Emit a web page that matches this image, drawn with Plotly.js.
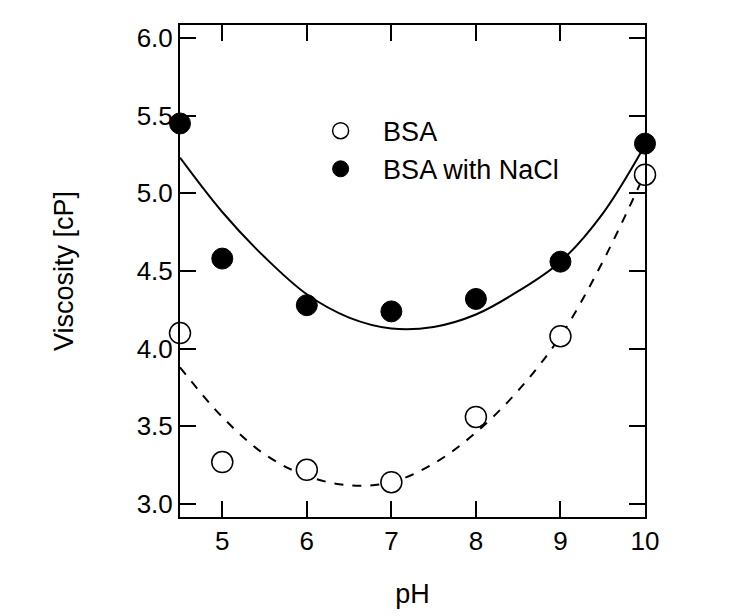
<!DOCTYPE html>
<html>
<head>
<meta charset="utf-8">
<script src="https://cdn.plot.ly/plotly-3.0.1.min.js"></script>
<style>
  body { margin: 0; background: #fff; }
  #chart { width: 747px; height: 616px; }
</style>
</head>
<body>
<div id="chart"></div>
<script>
// measured points
var pH = [4.5, 5, 6, 7, 8, 9, 10];
var bsa = [4.10, 3.27, 3.22, 3.14, 3.56, 4.08, 5.12];
var bsaNaCl = [5.45, 4.58, 4.28, 4.24, 4.32, 4.56, 5.32];

// fitted curves
var fitPH = [4.5, 5, 5.5, 6, 6.5, 7, 7.5, 8, 8.5, 9, 9.5, 10];
var fitBsa = [3.88, 3.56, 3.32, 3.18, 3.12, 3.14, 3.26, 3.46, 3.73, 4.08, 4.56, 5.13];
var fitNaCl = [5.23, 4.88, 4.59, 4.35, 4.20, 4.13, 4.14, 4.22, 4.37, 4.56, 4.87, 5.31];

var fontFam = "Arial, 'Liberation Sans', sans-serif";

var fit1 = {
    x: fitPH, y: fitBsa,
    mode: "lines", type: "scatter",
    line: {color: "#000", width: 2, dash: "dash", shape: "spline"},
    showlegend: false, hoverinfo: "skip"
};

var fit2 = {
    x: fitPH, y: fitNaCl,
    mode: "lines", type: "scatter",
    line: {color: "#000", width: 2, shape: "spline"},
    showlegend: false, hoverinfo: "skip"
};

var trace1 = {
    x: pH, y: bsa,
    mode: "markers", type: "scatter",
    name: "BSA",
    marker: {size: 21, color: "#fff", line: {color: "#000", width: 1.5}},
    cliponaxis: false
};

var trace2 = {
    x: pH, y: bsaNaCl,
    mode: "markers", type: "scatter",
    name: "BSA with NaCl",
    marker: {size: 21, color: "#000", line: {color: "#000", width: 1}},
    cliponaxis: false
};

var layout = {
    width: 747, height: 616,
    margin: {l: 180, r: 102, t: 25, b: 99},
    paper_bgcolor: "#fff",
    plot_bgcolor: "#fff",
    font: {family: fontFam, color: "#000", size: 27},
    showlegend: true,
    legend: {
        x: 0.254, y: 0.834, xanchor: "left", yanchor: "top",
        bgcolor: "rgba(0,0,0,0)",
        itemwidth: 75,
        font: {size: 27}
    },
    xaxis: {
        range: [4.5, 10],
        tickvals: [5, 6, 7, 8, 9, 10],
        ticks: "inside", ticklen: 16, tickwidth: 2, tickcolor: "#000",
        showline: true, linewidth: 2, linecolor: "#000", mirror: "ticks",
        showgrid: false, zeroline: false,
        tickfont: {size: 26},
        title: {text: "pH", font: {size: 27}, standoff: 29}
    },
    yaxis: {
        range: [2.916, 6.084],
        tickvals: [3.0, 3.5, 4.0, 4.5, 5.0, 5.5, 6.0],
        tickformat: ".1f",
        ticks: "inside", ticklen: 16, tickwidth: 2, tickcolor: "#000",
        showline: true, linewidth: 2, linecolor: "#000", mirror: "ticks",
        showgrid: false, zeroline: false,
        tickfont: {size: 26},
        title: {text: "Viscosity [cP]", font: {size: 27}, standoff: 55}
    }
};

Plotly.newPlot("chart", [fit1, fit2, trace1, trace2], layout, {staticPlot: true});
</script>
</body>
</html>
